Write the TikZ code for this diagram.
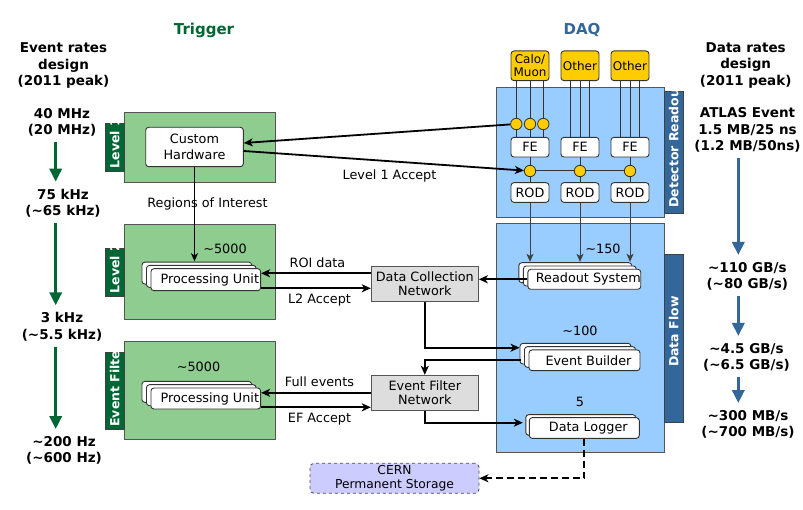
\documentclass[tikz,border=0pt]{standalone}
\usepackage{fontspec}
\setmainfont{DejaVu Sans}
\usetikzlibrary{arrows.meta,shadows}
\definecolor{trig}{HTML}{006633}
\definecolor{trigfill}{HTML}{8FCC8F}
\definecolor{daq}{HTML}{336699}
\definecolor{daqfill}{HTML}{99CCFF}
\definecolor{sensor}{HTML}{FFCC00}
\definecolor{netfill}{HTML}{DDDDDD}
\definecolor{storefill}{HTML}{CCCCFF}
\definecolor{edge}{HTML}{555555}
\newcommand{\tld}{\textasciitilde}
\newcommand{\pad}{\hspace*{8pt}}

\begin{document}
\begin{tikzpicture}[x=1pt, y=-1pt,
  every node/.style={font=\fontsize{12.8}{14}\selectfont, align=center, inner sep=2pt},
  title/.style={font=\fontsize{15}{18}\selectfont\bfseries},
  rate/.style={font=\fontsize{13.5}{16.2}\selectfont\bfseries, inner sep=0pt},
  region/.style={draw=edge, line width=1pt, inner sep=0pt},
  tabbox/.style={draw=black!75, line width=0.8pt, minimum width=19pt, inner sep=0pt},
  tabtext/.style={text=white, font=\fontsize{12.5}{14}\selectfont\bfseries, rotate=90, anchor=west, inner sep=0pt},
  unit/.style={draw=black!80, fill=white, rounded corners=3pt, line width=0.9pt, inner sep=0pt},
  stackthree/.style={general shadow={shadow xshift=-9pt, shadow yshift=6.6pt, fill=white, draw=black!80},
                     general shadow={shadow xshift=-4.5pt, shadow yshift=3.3pt, fill=white, draw=black!80}},
  stacktwo/.style={general shadow={shadow xshift=-3.5pt, shadow yshift=3pt, fill=white, draw=black!80}},
  net/.style={draw=edge, fill=netfill, line width=1pt, minimum width=107pt, minimum height=35pt, inner sep=0pt},
  tap/.style={circle, draw=black!80, fill=sensor, line width=0.8pt, minimum size=11.4pt, inner sep=0pt},
  wire/.style={draw=black!80, line width=1pt},
  arr/.style={-{Stealth[length=9pt,width=8pt,inset=2.5pt]}, line width=1.8pt},
  thinarr/.style={-{Stealth[length=8pt,width=7pt,inset=2pt]}, line width=1pt},
  flowarr/.style={-{Triangle[length=13pt,width=12pt]}, line width=3.3pt, shorten <=5.5pt, shorten >=7pt}
]
\useasboundingbox (0,0) rectangle (803,510);

% column headings
\node[title, text=trig] (trigtitle) at (204,30) {Trigger};
\node[title, text=daq] (daqtitle) at (582,30) {DAQ};

% event rates (left)
\node[rate] (evrates) at (63.5,65.5) {Event rates\\design\\(2011 peak)};
\node[rate] (r40) at (62,122.2) {40 MHz\\(20 MHz)};
\node[rate] (r75) at (63,203) {75 kHz\\(\tld65 kHz)};
\node[rate] (r3) at (62,326.7) {3 kHz\\(\tld5.5 kHz)};
\node[rate] (r200) at (64,450.3) {\tld200 Hz\\(\tld600 Hz)};
\coordinate (gcol) at (55.7,0);
\draw[flowarr, trig] (r40.south -| gcol) -- (r75.north -| gcol);
\draw[flowarr, trig] (r75.south -| gcol) -- (r3.north -| gcol);
\draw[flowarr, trig] (r3.south -| gcol) -- (r200.north -| gcol);

% data rates (right)
\node[rate] (dtrates) at (745.7,65.3) {Data rates\\design\\(2011 peak)};
\node[rate] (ratlas) at (747.5,130) {ATLAS Event\\1.5 MB/25 ns\\(1.2 MB/50ns)};
\node[rate] (r110) at (747.3,276.2) {\tld110 GB/s\\(\tld80 GB/s)};
\node[rate] (r45) at (746.5,357.2) {\tld4.5 GB/s\\(\tld6.5 GB/s)};
\node[rate] (r300) at (748,424.3) {\tld300 MB/s\\(\tld700 MB/s)};
\coordinate (bcol) at (738.3,0);
\draw[flowarr, daq] (ratlas.south -| bcol) -- (r110.north -| bcol);
\draw[flowarr, daq] (r110.south -| bcol) -- (r45.north -| bcol);
\draw[flowarr, daq] (r45.south -| bcol) -- (r300.north -| bcol);

% trigger levels
\node[region, fill=trigfill, minimum width=151pt, minimum height=70pt] (l1box) at (199.8,147.3) {};
\node[region, fill=trigfill, minimum width=151pt, minimum height=95pt] (l2box) at (199.8,271.8) {};
\node[region, fill=trigfill, minimum width=151pt, minimum height=98.3pt] (efbox) at (199.8,390.8) {};
\node[tabbox, fill=trig, minimum height=48pt] (l1tab) at (114.7,147.2) {};
\node[tabbox, fill=trig, minimum height=48pt] (l2tab) at (114.7,272) {};
\node[tabbox, fill=trig, minimum height=76.7pt] (eftab) at (114.7,391) {};
\begin{scope}
  \clip (l1tab.south west) rectangle (l1tab.north east);
  \node[tabtext] (l1name) at ([yshift=3pt]l1tab.south) {Level 1};
\end{scope}
\begin{scope}
  \clip (l2tab.south west) rectangle (l2tab.north east);
  \node[tabtext] (l2name) at ([yshift=3pt]l2tab.south) {Level 2};
\end{scope}
\begin{scope}
  \clip (eftab.south west) rectangle (eftab.north east);
  \node[tabtext] (efname) at ([yshift=3pt]eftab.south) {Event Filter};
\end{scope}

\node[unit, font=\fontsize{12.8}{16}\selectfont, minimum width=97.6pt, minimum height=39.4pt] (ch) at (194.5,147) {Custom\\Hardware};
\node[unit, stackthree, minimum width=109.7pt, minimum height=22pt] (pul2) at (205.8,279.7) {\pad Processing Unit};
\node[unit, stackthree, minimum width=109.7pt, minimum height=21pt] (puef) at (205.8,398.5) {\pad Processing Unit};
\node (n5000a) at (225,249) {\tld5000};
\node (n5000b) at (198.5,367) {\tld5000};

% DAQ
\node[region, fill=daqfill, minimum width=168pt, minimum height=130pt] (drbox) at (580,152.7) {};
\node[region, fill=daqfill, minimum width=168pt, minimum height=229.3pt] (dfbox) at (580,338) {};
\node[tabbox, fill=daq, minimum height=121.7pt] (drtab) at (673.7,152.5) {};
\node[tabbox, fill=daq, minimum height=168.3pt] (dftab) at (673.7,338.2) {};
\begin{scope}
  \clip (drtab.south west) rectangle (drtab.north east);
  \node[tabtext] (drname) at ([yshift=6pt]drtab.south) {Detector Readout};
\end{scope}
\node[tabtext, anchor=center] (dfname) at ([yshift=6.5pt]dftab.center) {Data Flow};

\node[unit, fill=sensor, font=\fontsize{12}{13}\selectfont, minimum width=38pt, minimum height=29.7pt] (calo) at (530,65.8) {Calo/\\Muon};
\node[unit, fill=sensor, font=\fontsize{12}{13}\selectfont, minimum width=38pt, minimum height=29.7pt] (other1) at (580,65.8) {Other};
\node[unit, fill=sensor, font=\fontsize{12}{13}\selectfont, minimum width=38pt, minimum height=29.7pt] (other2) at (630,65.8) {Other};
\node[unit, minimum width=38pt, minimum height=19.7pt] (fe1) at (530,147.2) {FE};
\node[unit, minimum width=38pt, minimum height=19.7pt] (fe2) at (580,147.2) {FE};
\node[unit, minimum width=38pt, minimum height=19.7pt] (fe3) at (630,147.2) {FE};
\node[unit, minimum width=38pt, minimum height=19.7pt] (rod1) at (530,192.5) {ROD};
\node[unit, minimum width=38pt, minimum height=19.7pt] (rod2) at (580,192.5) {ROD};
\node[unit, minimum width=38pt, minimum height=19.7pt] (rod3) at (630,192.5) {ROD};
\node[tap] (tap1) at (516.3,124) {};
\node[tap] (tap2) at (530,124) {};
\node[tap] (tap3) at (543.3,124) {};
\node[tap] (acc1) at (530,171) {};
\node[tap] (acc2) at (580,171) {};
\node[tap] (acc3) at (630,171) {};

% front-end wiring
\draw[wire] ([xshift=-13.7pt]calo.south) -- (tap1) -- ([xshift=-13.7pt]fe1.north);
\draw[wire] (calo.south) -- (tap2) -- (fe1.north);
\draw[wire] ([xshift=13.3pt]calo.south) -- (tap3) -- ([xshift=13.3pt]fe1.north);
\foreach \dx in {-10,0,9.5} {
  \draw[wire] ([xshift=\dx pt]other1.south) -- ([xshift=\dx pt]fe2.north);
  \draw[wire] ([xshift=\dx pt]other2.south) -- ([xshift=\dx pt]fe3.north);
}
\draw[wire] (fe1) -- (acc1) -- (rod1);
\draw[wire] (fe2) -- (acc2) -- (rod2);
\draw[wire] (fe3) -- (acc3) -- (rod3);
\draw[wire] (acc1) -- (acc2) -- (acc3);

\node[unit, stackthree, minimum width=110pt, minimum height=20pt] (ros) at (584.3,279.3) {\pad Readout System};
\node[unit, stackthree, minimum width=111pt, minimum height=20.7pt] (eb) at (584.5,360.3) {\pad Event Builder};
\node[unit, stacktwo, minimum width=110pt, minimum height=20.7pt] (dl) at (584.3,428) {\pad Data Logger};
\node (n150) at (603,249) {\tld150};
\node (n100) at (580,331) {\tld100};
\node (n5) at (580,402) {5};

\node[net] (dcn) at (424.8,283.8) {Data Collection\\Network};
\node[net] (efn) at (424.8,392.8) {Event Filter\\Network};
\node[unit, fill=storefill, draw=black!70, dashed, line width=0.8pt, rounded corners=4pt, font=\fontsize{12.3}{14}\selectfont, minimum width=169pt, minimum height=30pt] (cern) at (394.5,478.3) {CERN\\Permanent Storage};

% level 1 trigger path
\draw[arr] (tap1) -- ([yshift=4pt]ch.east);
\draw[arr] ([yshift=-4pt]ch.east) -- (acc1);
\node (l1acc) at (389.5,175.7) {Level 1 Accept};
\draw[thinarr, shorten >=7pt] (ch) -- (ch |- pul2.north);
\node (roilabel) at (207.5,204.3) {Regions of Interest};

% readout to collection
\foreach \r in {rod1,rod2,rod3}
  \draw[thinarr, draw=black!75, shorten >=7pt] (\r) -- (\r |- ros.north);
\draw[arr] (ros.west) -- (ros.west -| dcn.east);

% level 2 and event filter traffic
\draw[arr] ([yshift=10.5pt]dcn.west) -- ([yshift=10.5pt]dcn.west -| pul2.east);
\draw[arr] ([yshift=-4.5pt]dcn.west -| pul2.east) -- ([yshift=-4.5pt]dcn.west);
\node (roidata) at (317.5,262.7) {ROI data};
\node (l2acc) at (319.5,300) {L2 Accept};
\draw[arr] (efn.west) -- (efn.west -| puef.east);
\draw[arr] ([yshift=-14.5pt]efn.west -| puef.east) -- ([yshift=-14.5pt]efn.west);
\node (fullev) at (319.5,381.7) {Full events};
\node (efacc) at (319.5,418.7) {EF Accept};

\draw[arr, shorten >=9pt] (dcn.south) |- ([yshift=12.6pt]eb.west);
\draw[arr] ([xshift=-8pt]eb.west) -| (efn.north);
\draw[arr, shorten >=6pt] (efn.south) |- ([yshift=5.3pt]dl.west);
\draw[arr, dash pattern=on 7pt off 4pt] (dl.south) |- (cern.east);
\end{tikzpicture}
\end{document}
